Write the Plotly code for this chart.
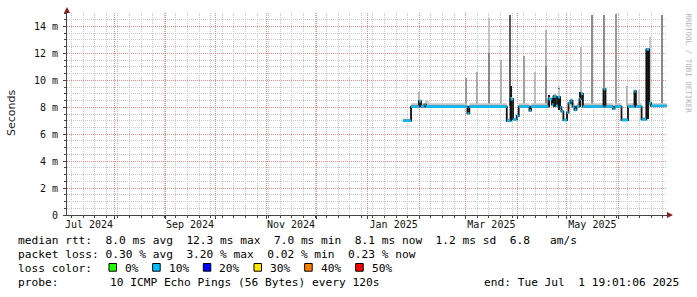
import plotly.graph_objects as go

# ---------------- data ----------------
# median RTT (ms) as step changes (value holds until the next date)
med_dates = [
    "2025-01-22 02:00", "2025-01-27 00:00", "2025-01-31 19:00", "2025-02-02 00:00",
    "2025-02-04 02:00", "2025-02-05 00:00", "2025-03-02 02:00", "2025-03-03 05:00",
    "2025-03-25 19:00", "2025-03-28 02:00", "2025-03-29 14:00", "2025-03-31 19:00",
    "2025-04-02 00:00", "2025-04-08 12:00", "2025-04-09 10:00", "2025-04-20 00:00",
    "2025-04-22 00:00", "2025-04-23 00:00", "2025-04-24 12:00", "2025-04-25 17:00",
    "2025-04-27 00:00", "2025-04-27 19:00", "2025-04-29 00:00", "2025-05-01 05:00",
    "2025-05-02 02:00", "2025-05-03 07:00", "2025-05-04 12:00", "2025-05-05 17:00",
    "2025-05-06 22:00", "2025-05-08 17:00", "2025-05-09 14:00", "2025-05-10 19:00",
    "2025-05-23 05:00", "2025-05-24 10:00", "2025-05-28 22:00", "2025-05-29 22:00",
    "2025-06-03 02:00", "2025-06-07 00:00", "2025-06-10 22:00", "2025-06-11 19:00",
    "2025-06-15 05:00", "2025-06-18 02:00", "2025-06-19 17:00", "2025-06-20 22:00",
]
med_ms = [
    7.0, 8.05, 8.45, 8.05,
    8.2, 8.05, 7.55, 8.05,
    7.0, 8.6, 7.1, 7.35,
    8.05, 7.75, 8.05, 8.6,
    8.2, 8.8, 8.1, 8.75,
    8.0, 7.7, 7.05, 7.6,
    8.3, 8.5, 8.05, 7.8,
    8.05, 8.6, 9.0, 8.05,
    9.35, 8.05, 7.9, 8.05,
    7.05, 8.05, 9.2, 8.05,
    7.1, 12.3, 8.3, 8.1,
]
# upper edge of the light smoke just above the median
smoke_hi_ms = [
    7.15, 8.3, 8.6, 8.3,
    8.35, 8.3, 7.7, 8.3,
    7.15, 8.75, 7.2, 7.5,
    8.3, 7.9, 8.3, 8.75,
    8.4, 9.0, 8.35, 9.4,
    8.2, 7.85, 7.2, 7.75,
    8.45, 8.65, 8.3, 7.95,
    8.3, 8.75, 9.15, 8.3,
    9.45, 8.3, 8.05, 8.3,
    7.2, 8.3, 9.3, 8.3,
    7.25, 12.4, 8.45, 8.3,
]
last_sample = "2025-06-30 12:00"

# tall smoke spikes (max ping), ms
spike_dates = [
    "2025-02-01 02:00", "2025-02-05 00:00", "2025-02-06 05:00", "2025-03-01 05:00",
    "2025-03-08 05:00", "2025-03-15 05:00", "2025-03-22 07:00", "2025-03-28 02:00",
    "2025-04-05 07:00", "2025-04-12 00:00", "2025-04-18 22:00", "2025-04-26 07:00",
    "2025-05-09 14:00", "2025-05-16 10:00", "2025-05-23 17:00", "2025-05-31 05:00",
    "2025-06-06 14:00", "2025-06-13 14:00", "2025-06-20 12:00", "2025-06-27 10:00",
]
spike_top_ms = [
    9.1, 8.55, 8.5, 10.2,
    10.65, 14.6, 11.5, 14.85,
    11.8, 10.6, 13.75, 9.55,
    12.45, 14.85, 14.85, 14.9,
    9.55, 9.3, 13.25, 14.85,
]
spike_dense_top_ms = [
    0, 0, 0, 0,
    0, 12.0, 0, 0,
    0, 0, 11.1, 0,
    0, 0, 0, 0,
    0, 0, 0, 0,
]
spike_base_ms = 8.1

# dense (dark) smoke around level changes
dark_dates = ["2025-03-28 12:00", "2025-04-20 12:00", "2025-04-23 12:00",
              "2025-04-26 07:00", "2025-05-09 00:00", "2025-06-18 20:00"]
dark_lo_ms = [7.0, 8.0, 8.0, 7.8, 8.0, 7.1]
dark_hi_ms = [9.6, 8.9, 8.9, 9.4, 9.1, 12.3]

# axes
x_start, x_end = "2024-07-03 05:45", "2025-06-30 13:30"
month_starts = ["2024-08-01", "2024-09-01", "2024-10-01", "2024-11-01", "2024-12-01",
                "2025-01-01", "2025-02-01", "2025-03-01", "2025-04-01", "2025-05-01",
                "2025-06-01"]
label_dates = ["2024-07-16 12:00", "2024-09-15 12:00", "2024-11-15 12:00",
               "2025-01-16 12:00", "2025-03-16 12:00", "2025-05-16 12:00"]
label_text = ["Jul 2024", "Sep 2024", "Nov 2024", "Jan 2025", "Mar 2025", "May 2025"]
y_ticks = [0, 2, 4, 6, 8, 10, 12, 14]
y_text = ["0", "2 m", "4 m", "6 m", "8 m", "10 m", "12 m", "14 m"]

# legend block
rtt_line = "median rtt:  8.0 ms avg  12.3 ms max  7.0 ms min  8.1 ms now  1.2 ms sd  6.8   am/s"
loss_line = "packet loss: 0.30 % avg  3.20 % max  0.02 % min  0.23 % now"
loss_labels = ["0%", "10%", "20%", "30%", "40%", "50%"]
loss_colors = ["#22ff00", "#00c0ff", "#0000ff", "#ffe800", "#ff7f00", "#ff0000"]
probe_text = "10 ICMP Echo Pings (56 Bytes) every 120s"
end_text = "end: Tue Jul  1 19:01:06 2025"

# ---------------- layout helpers (pixel -> paper) ----------------
W, H = 697, 297
L, R, T, B = 67, 667, 13, 215
def px(x):
    return (x - L) / (R - L)
def py(y):
    return (B - y) / (B - T)

MONO = "DejaVu Sans Mono"
DAY = 86400000

fig = go.Figure()

# spikes (light)
fig.add_trace(go.Bar(
    x=spike_dates, base=[spike_base_ms] * len(spike_dates),
    y=[t - spike_base_ms for t in spike_top_ms],
    width=[0.9 * DAY] * len(spike_dates),
    marker=dict(color=["#b4b4b4", "#cccccc", "#cccccc", "#9a9a9a",
                       "#aaaaaa", "#c4c4c4", "#b0b0b0", "#5a5a5a",
                       "#a0a0a0", "#bbbbbb", "#b4b4b4", "#cccccc",
                       "#bbbbbb", "#8c8c8c", "#8c8c8c", "#9a9a9a",
                       "#b8b8b8", "#c8c8c8", "#c8c8c8", "#8a8a8a"],
                line=dict(width=0)),
    showlegend=False, hoverinfo="skip"))
# dense lower part of some spikes
dense_x = [d for d, v in zip(spike_dates, spike_dense_top_ms) if v]
dense_v = [v for v in spike_dense_top_ms if v]
fig.add_trace(go.Bar(
    x=dense_x, base=[spike_base_ms] * len(dense_x),
    y=[v - spike_base_ms for v in dense_v], width=[0.9 * DAY] * len(dense_x),
    marker=dict(color="#888888", line=dict(width=0)),
    showlegend=False, hoverinfo="skip"))
# dark smoke
fig.add_trace(go.Bar(
    x=dark_dates, base=dark_lo_ms,
    y=[h - l for h, l in zip(dark_hi_ms, dark_lo_ms)],
    width=[1.3 * DAY] * len(dark_dates),
    marker=dict(color="#1a1a1a", line=dict(width=0)),
    showlegend=False, hoverinfo="skip"))

# light smoke band above median
sx = med_dates + [last_sample]
fig.add_trace(go.Scatter(x=sx, y=med_ms + [med_ms[-1]], mode="lines",
                         line=dict(shape="hv", width=0, color="rgba(0,0,0,0)"),
                         showlegend=False, hoverinfo="skip"))
fig.add_trace(go.Scatter(x=sx, y=smoke_hi_ms + [smoke_hi_ms[-1]], mode="lines",
                         line=dict(shape="hv", width=0, color="rgba(0,0,0,0)"),
                         fill="tonexty", fillcolor="#c4c4c4",
                         showlegend=False, hoverinfo="skip"))
# risers (dark)
fig.add_trace(go.Scatter(x=sx, y=med_ms + [med_ms[-1]], mode="lines",
                         line=dict(shape="hv", width=1.8, color="#111111"),
                         showlegend=False, hoverinfo="skip"))
# median segments coloured by loss
cx, cy = [], []
for i, v in enumerate(med_ms):
    cx += [sx[i], sx[i + 1], None]
    cy += [v, v, None]
fig.add_trace(go.Scatter(x=cx, y=cy, mode="lines",
                         line=dict(width=2.6, color="#10b8f0"),
                         showlegend=False, hoverinfo="skip"))
# invisible trace for label axis
fig.add_trace(go.Scatter(x=[x_start], y=[0], xaxis="x2", mode="markers",
                         marker=dict(opacity=0), showlegend=False, hoverinfo="skip"))

fig.update_layout(
    width=W, height=H,
    margin=dict(l=L, r=W - R, t=T, b=H - B),
    paper_bgcolor="white", plot_bgcolor="white",
    barmode="overlay", bargap=0,
    xaxis=dict(
        type="date", range=[x_start, x_end],
        tickmode="array", tickvals=month_starts, showticklabels=False,
        showgrid=True, gridcolor="#f08a8a", gridwidth=1, griddash="1px,1px",
        ticks="outside", ticklen=3, tickcolor="#444",
        showline=True, linecolor="#444", linewidth=1, zeroline=False,
        minor=dict(tickmode="linear", tick0="2024-07-06", dtick=7 * DAY,
                   showgrid=True, gridcolor="#c8c8c8", gridwidth=1, griddash="1px,1px",
                   ticks="outside", ticklen=2, tickcolor="#444"),
    ),
    xaxis2=dict(
        type="date", overlaying="x", matches="x", anchor="y", side="bottom",
        tickmode="array", tickvals=label_dates, ticktext=label_text,
        showgrid=False, ticks="", showline=False, zeroline=False,
        tickfont=dict(family=MONO, size=10, color="#111"), ticklabelstandoff=2,
    ),
    yaxis=dict(
        range=[0, 15], tickmode="array", tickvals=y_ticks, ticktext=y_text,
        showgrid=True, gridcolor="#f08a8a", gridwidth=1, griddash="1px,1px",
        ticks="outside", ticklen=3, tickcolor="#444",
        tickfont=dict(family=MONO, size=10, color="#111"), ticklabelstandoff=3,
        showline=True, linecolor="#444", linewidth=1, zeroline=False,
        minor=dict(tickmode="linear", tick0=0, dtick=0.5,
                   showgrid=True, gridcolor="#c8c8c8", gridwidth=1, griddash="1px,1px",
                   ticks="outside", ticklen=2, tickcolor="#444"),
    ),
)

# axis arrows
fig.add_shape(type="path", xref="paper", yref="paper", xsizemode="pixel", ysizemode="pixel",
              xanchor=1, yanchor=0, path="M 0,3 L 6,0 L 0,-3 Z",
              fillcolor="#8b1a1a", line=dict(width=0))
fig.add_shape(type="path", xref="paper", yref="paper", xsizemode="pixel", ysizemode="pixel",
              xanchor=0, yanchor=1, path="M -3,0 L 3,0 L 0,6 Z",
              fillcolor="#8b1a1a", line=dict(width=0))

ann = []
ann.append(dict(text="Seconds", textangle=-90, x=px(11), y=py(113), xref="paper", yref="paper",
                showarrow=False, xanchor="center", yanchor="middle",
                font=dict(family="DejaVu Sans", size=11, color="#222")))
ann.append(dict(text="RRDTOOL / TOBI OETIKER", textangle=90, x=px(688.5), y=py(63),
                xref="paper", yref="paper", showarrow=False, xanchor="center", yanchor="middle",
                font=dict(family=MONO, size=7.5, color="#b4b4b4")))

def nb(s):
    return s.replace(" ", "\u00a0")

LF = dict(family=MONO, size=11.2, color="#000")
rows_y = [240, 254, 268, 282]
ann.append(dict(text=nb(rtt_line), x=px(16), y=py(rows_y[0]), xref="paper", yref="paper",
                showarrow=False, xanchor="left", yanchor="middle", font=LF))
ann.append(dict(text=nb(loss_line), x=px(16), y=py(rows_y[1]), xref="paper", yref="paper",
                showarrow=False, xanchor="left", yanchor="middle", font=LF))
ann.append(dict(text=nb("loss color:"), x=px(16), y=py(rows_y[2]), xref="paper", yref="paper",
                showarrow=False, xanchor="left", yanchor="middle", font=LF))
box_x = [109, 152.7, 203.3, 254, 304.7, 355.7]
lab_x = [123.3, 166.7, 217.3, 268.3, 319.3, 370]
for bx, lx, lab, col in zip(box_x, lab_x, loss_labels, loss_colors):
    fig.add_shape(type="rect", xref="paper", yref="paper",
                  x0=px(bx), x1=px(bx + 7.5), y0=py(271.2), y1=py(263.5),
                  fillcolor=col, line=dict(color="#000", width=1))
    ann.append(dict(text=lab, x=px(lx), y=py(rows_y[2]), xref="paper", yref="paper",
                    showarrow=False, xanchor="left", yanchor="middle", font=LF))
ann.append(dict(text=nb("probe:"), x=px(16), y=py(rows_y[3]), xref="paper", yref="paper",
                showarrow=False, xanchor="left", yanchor="middle", font=LF))
ann.append(dict(text=nb(probe_text), x=px(108), y=py(rows_y[3]), xref="paper", yref="paper",
                showarrow=False, xanchor="left", yanchor="middle", font=LF))
ann.append(dict(text=nb(end_text), x=px(681), y=py(rows_y[3]), xref="paper", yref="paper",
                showarrow=False, xanchor="right", yanchor="middle", font=LF))
fig.update_layout(annotations=ann)

fig.write_html("out.html")
